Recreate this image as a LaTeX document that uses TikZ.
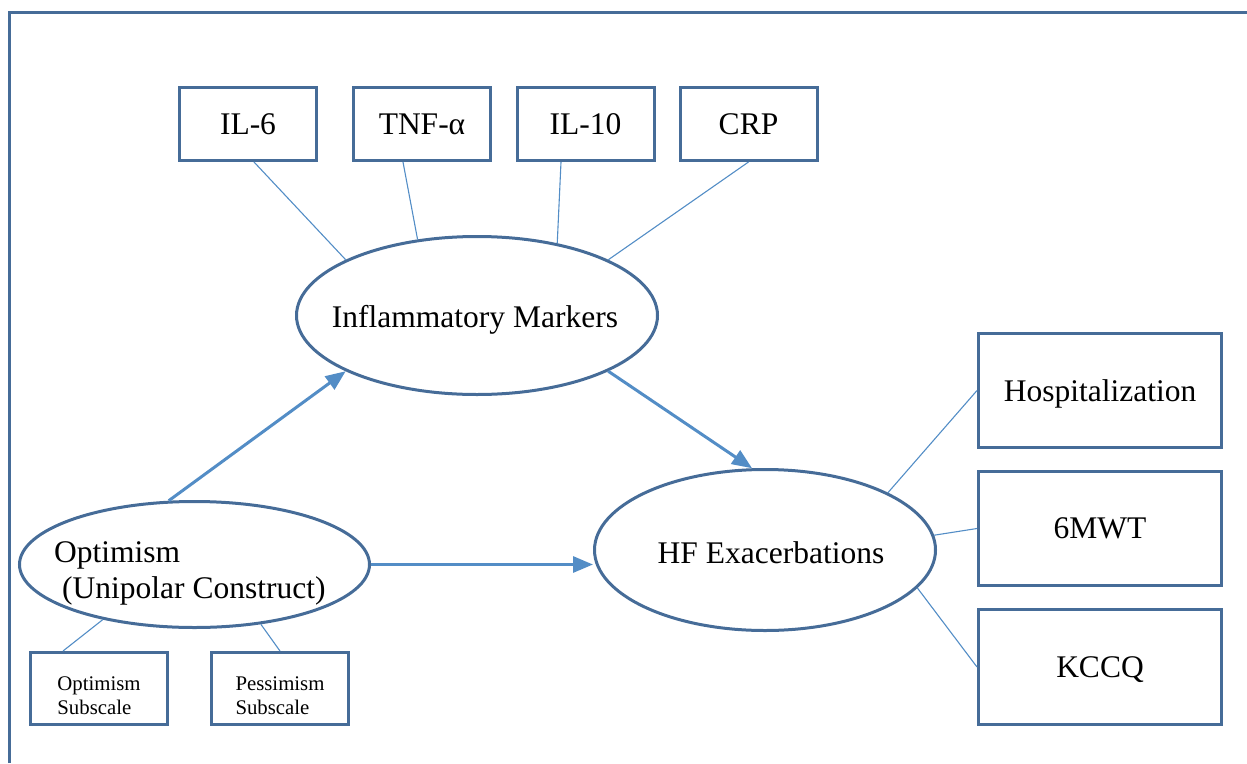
\documentclass[tikz,border=0pt]{standalone}
\usepackage{fontspec}
\setmainfont{Liberation Serif}
\usetikzlibrary{shapes.geometric,arrows.meta}
\definecolor{edgeblue}{RGB}{70,108,152}
\definecolor{arrblue}{RGB}{83,141,198}
\newcommand{\subtext}[2]{\raisebox{-13.9pt}[0pt][0pt]{\begin{tabular}{@{}l@{}}#1\\#2\end{tabular}}}
\begin{document}
\begin{tikzpicture}[x=1pt,y=-1pt,
  box/.style={draw=edgeblue, line width=3pt, rectangle, inner sep=0pt, text depth=0pt, font=\fontsize{31.5}{36}\selectfont},
  sbox/.style={draw=edgeblue, line width=3pt, rectangle, inner sep=0pt, font=\fontsize{20.8}{24}\selectfont},
  oval/.style={draw=edgeblue, line width=3pt, ellipse, inner sep=0pt},
  big/.style={font=\fontsize{31.5}{36}\selectfont, inner sep=0pt},
  thinline/.style={draw=arrblue, line width=1.1pt},
  thickarrow/.style={draw=arrblue, line width=3pt, -{Triangle[length=20pt,width=16pt]}}
]
\useasboundingbox (0,0) rectangle (1247,763);
\draw[edgeblue, line width=3pt] (9,763) -- (9,12.5) -- (1247,12.5);

% top boxes
\node[box, minimum width=137pt, minimum height=73pt] (il6) at (248,124) {IL-6};
\node[box, minimum width=137pt, minimum height=73pt] (tnf) at (422,124) {TNF-α};
\node[box, minimum width=137pt, minimum height=73pt] (il10) at (585.5,124) {IL-10};
\node[box, minimum width=137pt, minimum height=73pt] (crp) at (748.5,124) {CRP};

% right boxes
\node[box, minimum width=243pt, minimum height=114pt] (hosp) at (1100,390.5) {Hospitalization};
\node[box, minimum width=243pt, minimum height=114pt] (mwt) at (1100,528.5) {6MWT};
\node[box, minimum width=243pt, minimum height=115pt] (kccq) at (1100,667) {KCCQ};

% subscale boxes
\node[sbox, minimum width=137pt, minimum height=72pt] (osub) at (99,688.5) {\subtext{Optimism}{Subscale}};
\node[sbox, minimum width=137pt, minimum height=72pt] (psub) at (280,688.5) {\subtext{Pessimism}{Subscale}};

% ellipses
\node[oval, minimum width=361pt, minimum height=158pt] (inf) at (477,315.5) {};
\node[big, anchor=base] (inftext) at (475,327) {Inflammatory Markers};
\node[oval, minimum width=341pt, minimum height=161pt] (hf) at (765,550) {};
\node[big, anchor=base] (hftext) at (771,563) {HF Exacerbations};
\node[oval, minimum width=350pt, minimum height=126pt] (opt) at (194.5,564.5) {};
\node[big, anchor=base west] (opttext1) at (54,562) {Optimism};
\node[big, anchor=base west] (opttext2) at (62,598) {(Unipolar Construct)};

% thin connectors
\draw[thinline] ([xshift=6pt]il6.south) -- (inf.157.9);
\draw[thinline] ([xshift=-19pt]tnf.south) -- (inf.128.8);
\draw[thinline] ([xshift=-24.5pt]il10.south) -- (inf.42.8);
\draw[thinline] (crp.south) -- (inf.23.9);
\draw[thinline] (hosp.west) -- (hf.25.4);
\draw[thinline] (mwt.west) -- (hf.5.3);
\draw[thinline] (kccq.west) -- (hf.-14.8);
\draw[thinline] ([xshift=-36pt]osub.north) -- (opt.211.9);
\draw[thinline] (psub.north) -- (opt.-42);

% thick arrows
\draw[thickarrow] (opt.112.3) -- (inf.203.6);
\draw[thickarrow] (inf.-23.8) -- (hf.99.5);
\draw[thickarrow] (opt.east) -- (opt.east -| hf.west);
\end{tikzpicture}
\end{document}
